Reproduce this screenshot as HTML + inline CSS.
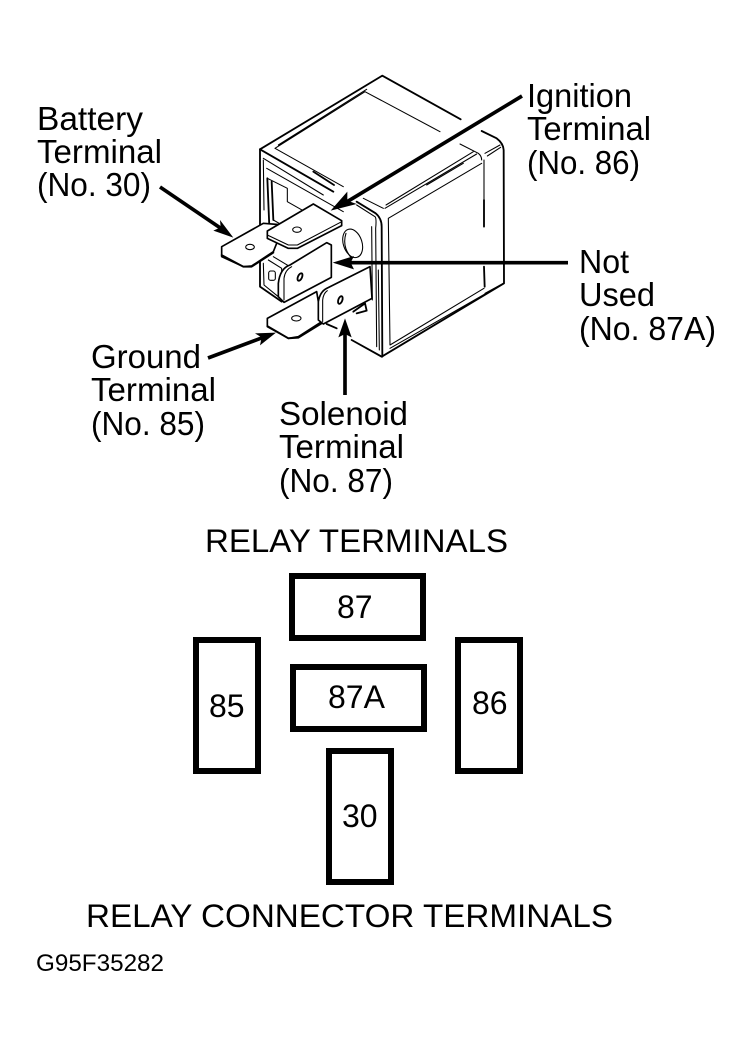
<!DOCTYPE html>
<html><head><meta charset="utf-8"><style>
html,body{margin:0;padding:0;background:#fff}
svg{display:block}
text{font-family:"Liberation Sans",sans-serif;font-size:32px;fill:#000}
.l{font-size:33px}
.t{fill:none;stroke:#000;stroke-width:3.2;stroke-linejoin:round;stroke-linecap:round}
.m{fill:none;stroke:#000;stroke-width:5.5;stroke-linejoin:round;stroke-linecap:round}
.w{fill:#fff;stroke:#000;stroke-width:5;stroke-linejoin:round}
.a{fill:none;stroke:#000;stroke-width:11}
.h{fill:#000;stroke:none}
.b{fill:none;stroke:#000;stroke-width:6}
</style></head><body>
<svg width="752" height="1047" viewBox="0 0 752 1047" xmlns="http://www.w3.org/2000/svg">
<rect width="752" height="1047" fill="#fff"/>
<g transform="translate(210,70) scale(.33333)">
<!-- housing -->
<path class="m" d="M150 238L517 17L752 148M815 183L860 205Q880 220 881 240L882 640L515 860L425 810"/>
<path class="m" d="M150 238L370 365M440 395L497 430Q515 445 515 470L517 860"/>
<path class="t" d="M195 235L465 65L690 185M750 222L805 250Q815 258 815 270M195 235L400 350M205 225L470 58"/>
<path class="m" d="M310 305L372 345"/>
<path class="t" d="M525 415L800 252M528 405L790 245M650 345L760 280M822 270L822 390M825 250L870 225M832 258L872 232"/>
<path class="t" d="M535 445L815 280M535 445L540 825L822 655M825 670L880 640M540 835L825 672"/>
<path class="m" d="M822 390L822 470M822 590L824 650"/>
<path class="t" d="M160 265L340 375M170 295L400 425M460 385L520 415M440 405L495 440M495 440Q500 445 497 475L500 830M485 470L487 690M505 600L508 840"/>
<path class="m" d="M150 238L150 650L215 695"/>
<path class="t" d="M160 270L162 420M160 580L162 645L205 680"/>
<path class="m" d="M172 325L178 470M185 335L190 450"/>
<path class="t" d="M172 325L232 355L232 395L320 445M190 450L225 470"/>
<ellipse class="t" cx="428" cy="520" rx="28" ry="44" transform="rotate(-18 428 520)"/>
<path class="t" d="M408 490Q395 530 425 565"/>
<!-- under parts -->
<path class="t" d="M175 570L215 595L215 615M190 560L240 590"/>
<rect class="t" x="176" y="603" width="20" height="28" rx="6"/>
<path class="m" d="M350 762L380 775M430 725L465 700L470 722L440 730"/>
<!-- not used terminal -->
<path class="w" d="M205 640Q210 595 240 585L350 518L364 525L364 622L222 697L205 680Z"/>
<path class="t" d="M222 690L222 625Q225 600 245 590"/>
<ellipse class="m" cx="270" cy="621" rx="6" ry="12" transform="rotate(25 270 621)"/>
<!-- battery terminal -->
<path class="w" d="M35 530L160 460L222 465L190 545L125 588L100 590L35 560Z"/>
<path class="m" d="M35 555L100 590L125 590L190 548"/>
<ellipse class="t" cx="120" cy="531" rx="13" ry="8"/>
<!-- ignition terminal -->
<path class="w" d="M172 483L310 402L395 452L395 467L262 535L235 535L172 505Z"/>
<path class="t" d="M172 495L235 525L262 525L395 455"/>
<ellipse class="t" cx="261" cy="479" rx="13" ry="8"/>
<!-- ground terminal -->
<path class="w" d="M172 745L320 665L335 755L265 800L235 805L172 770Z"/>
<path class="m" d="M172 768L235 805L265 803L335 760"/>
<ellipse class="t" cx="259" cy="745" rx="14" ry="8"/>
<!-- solenoid terminal -->
<path class="w" d="M325 695Q330 665 350 655L480 590L486 685L340 762L325 750Z"/>
<path class="t" d="M338 755L338 690Q340 670 352 662"/>
<ellipse class="m" cx="391" cy="690" rx="6" ry="12" transform="rotate(20 391 690)"/>
<!-- arrows -->
<path class="a" d="M936 78L400 402"/>
<path class="h" d="M362 422L412 365L412 392L440 402Z"/>
<path class="a" d="M1074 578L410 578"/>
<path class="h" d="M368 578L432 558L422 578L432 598Z"/>
<path class="a" d="M405 975L405 780"/>
<path class="h" d="M405 745L425 802L405 792L385 802Z"/>
<path class="a" d="M-6 864L160 802"/>
<path class="h" d="M198 788L150 826L155 802L135 790Z"/>
<path class="a" d="M-150 351L40 480"/>
<path class="h" d="M70 503L10 482L32 472L30 450Z"/>
</g>
<g class="l">
<text class="l" x="37" y="130" textLength="106" lengthAdjust="spacingAndGlyphs">Battery</text>
<text class="l" x="37" y="163" textLength="125" lengthAdjust="spacingAndGlyphs">Terminal</text>
<text class="l" x="37" y="196" textLength="114" lengthAdjust="spacingAndGlyphs">(No. 30)</text>
<text class="l" x="527" y="107" textLength="105" lengthAdjust="spacingAndGlyphs">Ignition</text>
<text class="l" x="527" y="140" textLength="124" lengthAdjust="spacingAndGlyphs">Terminal</text>
<text class="l" x="527" y="174" textLength="113" lengthAdjust="spacingAndGlyphs">(No. 86)</text>
<text class="l" x="579" y="273" textLength="50" lengthAdjust="spacingAndGlyphs">Not</text>
<text class="l" x="579" y="306" textLength="76" lengthAdjust="spacingAndGlyphs">Used</text>
<text class="l" x="579" y="340" textLength="137" lengthAdjust="spacingAndGlyphs">(No. 87A)</text>
<text class="l" x="91" y="368" textLength="110" lengthAdjust="spacingAndGlyphs">Ground</text>
<text class="l" x="91" y="401" textLength="125" lengthAdjust="spacingAndGlyphs">Terminal</text>
<text class="l" x="91" y="435" textLength="114" lengthAdjust="spacingAndGlyphs">(No. 85)</text>
<text class="l" x="279" y="425" textLength="129" lengthAdjust="spacingAndGlyphs">Solenoid</text>
<text class="l" x="279" y="458" textLength="125" lengthAdjust="spacingAndGlyphs">Terminal</text>
<text class="l" x="279" y="492" textLength="114" lengthAdjust="spacingAndGlyphs">(No. 87)</text>
</g>
<text x="205" y="552" textLength="303" lengthAdjust="spacingAndGlyphs">RELAY TERMINALS</text>
<rect class="b" x="292" y="576" width="131" height="62"/>
<rect class="b" x="196" y="640" width="62" height="131"/>
<rect class="b" x="293" y="667" width="131" height="62"/>
<rect class="b" x="458" y="640" width="62" height="131"/>
<rect class="b" x="329" y="751" width="62" height="131"/>
<text x="337" y="618">87</text>
<text x="209" y="717">85</text>
<text x="328" y="708">87A</text>
<text x="472" y="714">86</text>
<text x="342" y="827">30</text>
<text x="86" y="927" textLength="527" lengthAdjust="spacingAndGlyphs">RELAY CONNECTOR TERMINALS</text>
<text x="36" y="971" style="font-size:24px" textLength="128" lengthAdjust="spacingAndGlyphs">G95F35282</text>
</svg>
</body></html>
